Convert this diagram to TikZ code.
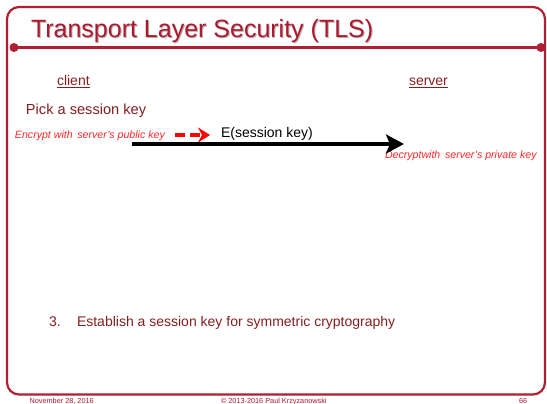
\documentclass[tikz,border=0pt]{standalone}
\usepackage{fontspec}
\setmainfont{Liberation Sans}
\usetikzlibrary{arrows.meta}
\definecolor{frame}{RGB}{178,30,50}
\definecolor{titlec}{RGB}{176,24,46}
\definecolor{darkred}{RGB}{135,30,32}
\definecolor{notered}{RGB}{255,40,40}
\begin{document}
\begin{tikzpicture}[x=1pt,y=-1pt,
  every node/.style={inner sep=0pt,outer sep=0pt},
  framestyle/.style={draw=frame,line width=2.2pt,rounded corners=12pt},
  dotstyle/.style={circle,fill=frame,minimum size=9pt},
  titletext/.style={font=\fontsize{25}{28}\selectfont,text=titlec},
  headtext/.style={font=\fontsize{14}{16}\selectfont,text=darkred},
  bodytext/.style={font=\fontsize{14}{16}\selectfont,text=darkred},
  picktext/.style={font=\fontsize{14.6}{16}\selectfont,text=darkred},
  notetext/.style={font=\fontsize{10.6}{12}\selectfont\itshape,text=notered},
  foottext/.style={font=\fontsize{7.3}{8}\selectfont,text=titlec}]
\useasboundingbox (0,0) rectangle (547,404);
\fill[white] (0,0) rectangle (547,404);
% slide frame
\draw[framestyle] (7,7) rectangle (545,394.5);
\node[dotstyle] (dl) at (14,47.5) {};
\node[dotstyle] (dr) at (541,47.5) {};
\draw[draw=frame,line width=3pt] (dl.center) -- (dr.center);
% title
\node[titletext,text=black!30,anchor=base west] (tshadow) at (32,39) {Transport Layer Security (TLS)};
\node[titletext,anchor=base west] (title) at (31,38) {Transport Layer Security (TLS)};
% labels
\node[headtext,anchor=base west] (client) at (57,86) {\underline{client}};
\node[headtext,anchor=base west] (server) at (409,86) {\underline{server}};
\node[picktext,anchor=base west] (pick) at (26,115) {Pick a session key};
\node[notetext,anchor=base west] (enc) at (15,139) {Encrypt with\, server's public key};
\node[font=\fontsize{14}{16}\selectfont,anchor=base west] (msg) at (221,138) {E(session key)};
\node[notetext,anchor=base west] (dec) at (385,158) {Decryptwith\, server's private key};
\node[bodytext,anchor=base west] (n3) at (49,326) {3.};
\node[bodytext,anchor=base west] (est) at (77,326) {Establish a session key for symmetric cryptography};
% arrows
\coordinate (rs) at (175,135);
\coordinate (re) at (210,135);
\draw[red,line width=3.2pt,dash pattern=on 10pt off 5pt,-{Stealth[length=12pt,width=15pt,inset=4pt]}] (rs) -- (re);
\coordinate (bs) at (132,144);
\coordinate (be) at (404,144);
\draw[black,line width=3.2pt,-{Stealth[length=18pt,width=19pt,inset=4pt]}] (bs) -- (be);
% footer
\node[foottext,anchor=base west] (date) at (29.6,403.3) {November 28, 2016};
\node[foottext,anchor=base west] (copy) at (221,403.3) {© 2013-2016 Paul Krzyzanowski};
\node[foottext,anchor=base west] (page) at (519,403.3) {66};
\end{tikzpicture}
\end{document}
